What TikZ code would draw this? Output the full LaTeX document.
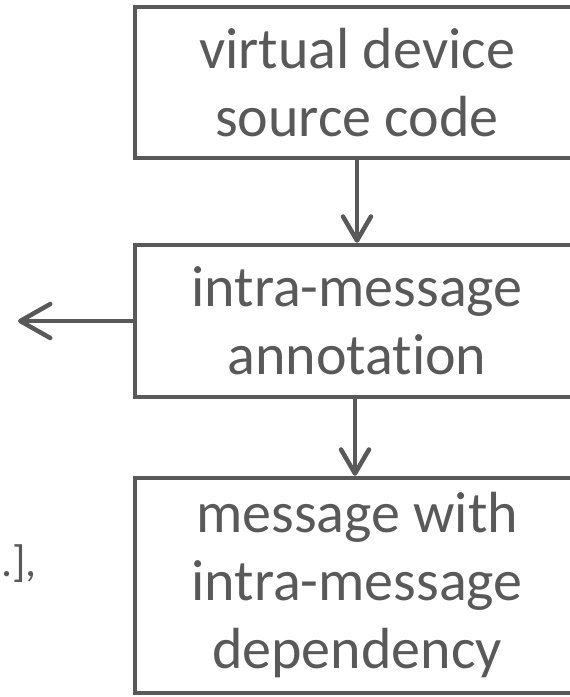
\documentclass[tikz,border=0pt]{standalone}
\usepackage{fontspec}
\setmainfont{Carlito}[Ligatures={NoCommon}]
\usetikzlibrary{arrows.meta}
\definecolor{ink}{HTML}{595959}
\tikzset{
  stagebox/.style={draw=ink, line width=4.5pt, rectangle, minimum width=444pt,
    text=ink, align=center, font=\fontsize{58pt}{68pt}\selectfont, inner sep=0pt},
  flow/.style={draw=ink, line width=4.5pt, line cap=round,
    -{Straight Barb[length=24pt,width=28pt,line cap=round,line join=round]}},
  sideflow/.style={draw=ink, line width=4.5pt, line cap=round,
    -{Straight Barb[length=30pt,width=34pt,line cap=round,line join=round]}},
}
\begin{document}
\begin{tikzpicture}[x=1pt,y=-1pt]
\useasboundingbox (0,0) rectangle (570,697);
\begin{scope}
\clip (0,0) rectangle (570,697);
\node[stagebox, minimum height=151pt] (src) at (357,82.5) {virtual device\\source code};
\node[stagebox, minimum height=152pt] (ann) at (357,321) {intra-message\\annotation};
\node[stagebox, minimum height=215pt] (dep) at (357,585.5) {message with\\intra-message\\dependency};
\coordinate (out) at (18,321);
\draw[flow] (src.south) -- (src.south |- ann.north);
\draw[flow] (ann.south -| 355,0) -- (dep.north -| 355,0);
\draw[sideflow] (ann.west) -- (out);
\node[anchor=base east, text=ink, font=\fontsize{44pt}{50pt}\selectfont, inner sep=0pt] (tail) at (37,576) {.],};
\end{scope}
\end{tikzpicture}
\end{document}
